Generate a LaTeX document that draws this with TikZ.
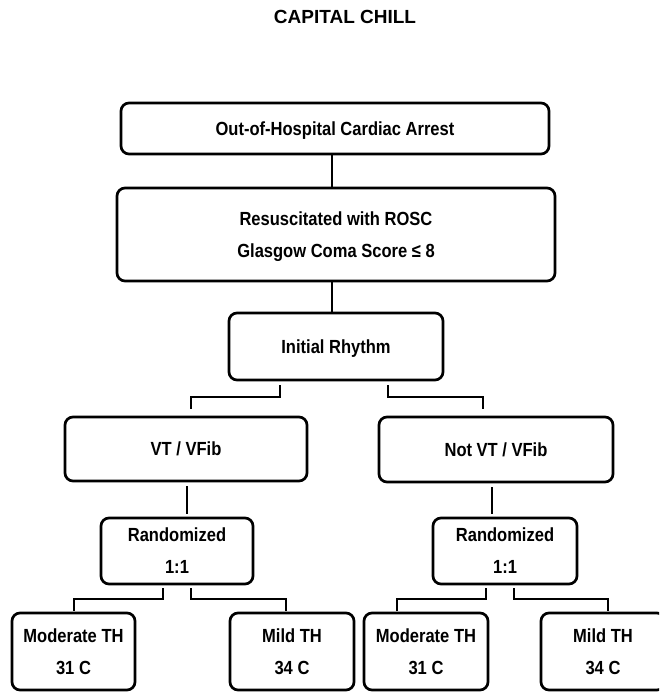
\documentclass[tikz,border=0pt]{standalone}
\usepackage{fontspec}
\setmainfont{Liberation Sans}
\newfontfamily\boxfont[FakeStretch=0.87]{Liberation Sans}
\begin{document}
\begin{tikzpicture}[x=1pt,y=-1pt,
  box/.style={draw=black, line width=2.7pt, rounded corners=8pt, fill=white,
    inner sep=0pt, align=center, text depth=0pt,
    font=\boxfont\bfseries\fontsize{19}{32}\selectfont},
  conn/.style={draw=black, line width=2.5pt},
  titletext/.style={font=\bfseries\fontsize{19}{22}\selectfont, inner sep=0pt, text depth=0pt}]
\clip (0,0) rectangle (659,692);

% heading
\node[titletext] (title) at (345,17) {CAPITAL CHILL};

% boxes
\node[box, minimum width=428pt, minimum height=51pt] (oh) at (335,128.5)
  {Out-of-Hospital Cardiac Arrest};
\node[box, minimum width=438pt, minimum height=93pt] (rosc) at (336,234.5)
  {Resuscitated with ROSC\\Glasgow Coma Score ≤ 8};
\node[box, minimum width=214pt, minimum height=67pt] (rhythm) at (336,346.5)
  {Initial Rhythm};
\node[box, minimum width=242pt, minimum height=64pt] (vt) at (186,449)
  {VT / VFib};
\node[box, minimum width=234pt, minimum height=65pt] (notvt) at (496,449.5)
  {Not VT / VFib};
\node[box, minimum width=152pt, minimum height=66pt] (rand1) at (177,551)
  {Randomized\\1:1};
\node[box, minimum width=144pt, minimum height=66pt] (rand2) at (505,551)
  {Randomized\\1:1};
\node[box, minimum width=123pt, minimum height=77pt] (mod1) at (73.5,651.5)
  {Moderate TH\\31 C};
\node[box, minimum width=124pt, minimum height=77pt] (mild1) at (292,651.5)
  {Mild TH\\34 C};
\node[box, minimum width=124pt, minimum height=77pt] (mod2) at (426,651.5)
  {Moderate TH\\31 C};
\node[box, minimum width=124pt, minimum height=77pt] (mild2) at (603,651.5)
  {Mild TH\\34 C};

% connectors down the trunk
\draw[conn] (oh.south -| 332,0) -- (rosc.north -| 332,0);
\draw[conn] (rosc.south -| 332,0) -- (rhythm.north -| 332,0);

% split by initial rhythm
\draw[conn] ([yshift=-4pt]rhythm.south -| 280,0) -- (280,397)
  -| ([yshift=7pt]vt.north -| 191,0);
\draw[conn] ([yshift=-4pt]rhythm.south -| 388,0) -- (388,397)
  -| ([yshift=7pt]notvt.north -| 483,0);

% to randomisation
\draw[conn] ([yshift=-4pt]vt.south -| 187,0) -- ([yshift=3pt]rand1.north -| 187,0);
\draw[conn] ([yshift=-4pt]notvt.south -| 492,0) -- ([yshift=3pt]rand2.north -| 492,0);

% treatment arms
\draw[conn] ([yshift=-3pt]rand1.south -| 163,0) -- (163,599)
  -| ([yshift=1pt]mod1.north -| 74,0);
\draw[conn] ([yshift=-3pt]rand1.south -| 191,0) -- (191,599)
  -| ([yshift=1pt]mild1.north -| 286,0);
\draw[conn] ([yshift=-3pt]rand2.south -| 486,0) -- (486,599)
  -| ([yshift=1pt]mod2.north -| 397,0);
\draw[conn] ([yshift=-3pt]rand2.south -| 514,0) -- (514,599)
  -| ([yshift=1pt]mild2.north -| 608,0);
\end{tikzpicture}
\end{document}
